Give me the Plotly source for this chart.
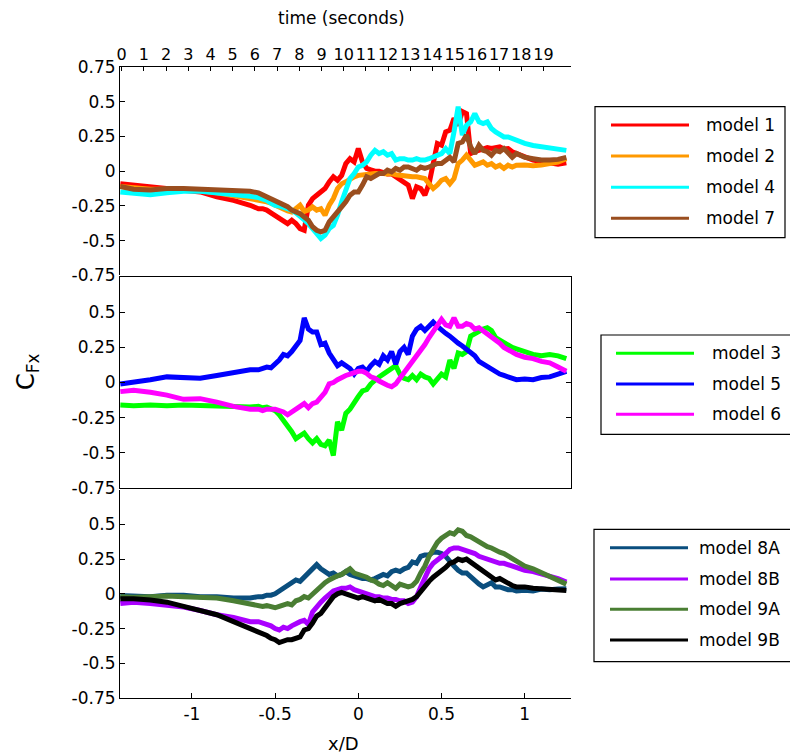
import plotly.graph_objects as go

W, H = 790, 756

# x/D stations shared by every series (coarse on the quiet left part,
# finer through the passage, coarse again at the right end)
x_d = [-1.43, -1.35, -1.25, -1.15, -1.05, -0.95, -0.85, -0.75, -0.65,
       -0.6, -0.575, -0.55, -0.525, -0.5, -0.475, -0.45, -0.425, -0.4, -0.375,
       -0.35, -0.325, -0.3, -0.275, -0.25, -0.225, -0.2, -0.175, -0.15, -0.125,
       -0.1, -0.075, -0.05, -0.025, 0.0, 0.025, 0.05, 0.075, 0.1, 0.125,
       0.15, 0.175, 0.2, 0.225, 0.25, 0.275, 0.3, 0.325, 0.35, 0.375,
       0.4, 0.425, 0.45, 0.475, 0.5, 0.525, 0.55, 0.575, 0.6, 0.625,
       0.65, 0.675, 0.7, 0.725, 0.75, 0.775, 0.8, 0.825, 0.85, 0.875,
       0.9, 0.925, 0.95,
       1.0, 1.05, 1.1, 1.15, 1.2, 1.25]

# ---- top panel ----
model_1 = [-0.09, -0.10, -0.113, -0.125, -0.137, -0.149, -0.185, -0.21, -0.245,
           -0.27, -0.27, -0.28, -0.30, -0.317, -0.34, -0.353, -0.377, -0.353, -0.377,
           -0.413, -0.425, -0.245, -0.197, -0.173, -0.15, -0.125, -0.077, -0.04, -0.065,
           -0.03, 0.055, 0.09, 0.067, 0.163, 0.067, 0.02, 0.01, 0.0, 0.0,
           -0.01, -0.02, -0.02, -0.04, -0.065, -0.09, -0.10, -0.197, -0.113, -0.125,
           -0.173, -0.09, 0.067, 0.20, 0.187, 0.283, 0.295, 0.38, 0.33, 0.43,
           0.415, 0.127, 0.14, 0.15, 0.163, 0.17, 0.163, 0.17, 0.175, 0.16,
           0.163, 0.14, 0.127,
           0.10, 0.08, 0.07, 0.06, 0.05, 0.06]
model_2 = [-0.11, -0.12, -0.13, -0.13, -0.135, -0.14, -0.155, -0.175, -0.20,
           -0.21, -0.215, -0.22, -0.23, -0.245, -0.26, -0.28, -0.285, -0.293, -0.27,
           -0.245, -0.29, -0.28, -0.257, -0.28, -0.27, -0.317, -0.245, -0.197, -0.125,
           -0.09, -0.077, -0.053, -0.04, -0.03, -0.025, -0.017, -0.02, -0.017, -0.015,
           -0.017, -0.02, -0.017, -0.025, -0.03, -0.035, -0.04, -0.04, -0.04, -0.045,
           -0.053, -0.09, -0.125, -0.10, -0.065, -0.053, -0.09, -0.053, 0.055, 0.08,
           0.115, 0.08, 0.043, 0.055, 0.067, 0.043, 0.055, 0.03, 0.043, 0.02,
           0.043, 0.03, 0.043,
           0.045, 0.04, 0.045, 0.055, 0.065, 0.09]
model_4 = [-0.15, -0.16, -0.17, -0.155, -0.145, -0.145, -0.155, -0.165, -0.18,
           -0.19, -0.20, -0.21, -0.23, -0.245, -0.25, -0.257, -0.265, -0.28, -0.30,
           -0.33, -0.35, -0.377, -0.41, -0.45, -0.485, -0.46, -0.413, -0.39, -0.317,
           -0.22, -0.125, -0.053, -0.017, 0.03, 0.043, 0.067, 0.115, 0.15, 0.127,
           0.14, 0.115, 0.127, 0.08, 0.09, 0.09, 0.08, 0.08, 0.09, 0.08,
           0.08, 0.09, 0.103, 0.115, 0.127, 0.163, 0.127, 0.283, 0.464, 0.26,
           0.33, 0.355, 0.415, 0.355, 0.343, 0.355, 0.307, 0.283, 0.26, 0.247,
           0.247, 0.235, 0.223,
           0.20, 0.185, 0.175, 0.165, 0.16, 0.15]
model_7 = [-0.11, -0.13, -0.135, -0.125, -0.125, -0.13, -0.135, -0.135, -0.145,
           -0.156, -0.17, -0.185, -0.195, -0.21, -0.22, -0.233, -0.255, -0.28, -0.29,
           -0.305, -0.33, -0.353, -0.40, -0.425, -0.437, -0.425, -0.365, -0.33, -0.305,
           -0.257, -0.22, -0.173, -0.15, -0.15, -0.10, -0.04, -0.053, -0.03, -0.017,
           -0.017, 0.007, -0.005, 0.02, 0.007, 0.03, 0.03, 0.02, 0.007, 0.03,
           0.02, 0.03, 0.043, 0.055, 0.055, 0.08, 0.10, 0.067, 0.20, 0.21,
           0.26, 0.175, 0.127, 0.187, 0.15, 0.14, 0.115, 0.15, 0.14, 0.163,
           0.127, 0.10, 0.127,
           0.10, 0.09, 0.08, 0.08, 0.085, 0.10]

# ---- middle panel ----
model_3 = [-0.16, -0.165, -0.16, -0.165, -0.16, -0.165, -0.17, -0.175, -0.175,
           -0.17, -0.18, -0.175, -0.19, -0.20, -0.23, -0.27, -0.30, -0.35, -0.40,
           -0.38, -0.36, -0.40, -0.43, -0.40, -0.44, -0.45, -0.41, -0.52, -0.28,
           -0.34, -0.22, -0.19, -0.14, -0.10, -0.06, -0.05, -0.01, 0.02, 0.04,
           0.06, 0.08, 0.10, 0.12, 0.06, 0.03, 0.02, 0.05, 0.02, 0.06,
           0.04, 0.03, -0.01, 0.03, 0.06, 0.04, 0.16, 0.10, 0.21, 0.20,
           0.22, 0.33, 0.35, 0.36, 0.38, 0.39, 0.37, 0.32, 0.30, 0.28,
           0.27, 0.25, 0.24,
           0.22, 0.20, 0.19, 0.20, 0.19, 0.17]
model_5 = [-0.01, 0.0, 0.02, 0.04, 0.035, 0.03, 0.05, 0.07, 0.09,
           0.09, 0.10, 0.11, 0.105, 0.13, 0.16, 0.20, 0.19, 0.22, 0.26,
           0.30, 0.46, 0.38, 0.36, 0.36, 0.27, 0.28, 0.21, 0.17, 0.12,
           0.14, 0.12, 0.10, 0.06, 0.10, 0.11, 0.08, 0.12, 0.15, 0.13,
           0.19, 0.16, 0.22, 0.13, 0.22, 0.25, 0.20, 0.33, 0.38, 0.40,
           0.37, 0.40, 0.43, 0.40, 0.37, 0.35, 0.33, 0.30, 0.28, 0.26,
           0.24, 0.21, 0.19, 0.15, 0.13, 0.11, 0.09, 0.07, 0.06, 0.05,
           0.04, 0.03, 0.02,
           0.025, 0.02, 0.035, 0.04, 0.06, 0.08]
model_6 = [-0.065, -0.055, -0.07, -0.09, -0.12, -0.115, -0.14, -0.17, -0.19,
           -0.19, -0.20, -0.19, -0.19, -0.19, -0.20, -0.21, -0.23, -0.21, -0.20,
           -0.17, -0.15, -0.18, -0.15, -0.14, -0.10, -0.07, -0.01, 0.0, 0.02,
           0.04, 0.05, 0.06, 0.07, 0.08, 0.08, 0.065, 0.04, 0.03, 0.01,
           -0.01, -0.02, -0.03, -0.01, 0.03, 0.07, 0.10, 0.14, 0.18, 0.22,
           0.27, 0.32, 0.36, 0.40, 0.45, 0.41, 0.40, 0.46, 0.40, 0.40,
           0.42, 0.41, 0.38, 0.39, 0.37, 0.35, 0.33, 0.30, 0.28, 0.25,
           0.23, 0.22, 0.20,
           0.18, 0.17, 0.15, 0.14, 0.11, 0.08]

# ---- bottom panel ----
model_8A = [-0.012, -0.015, -0.02, -0.01, -0.01, -0.02, -0.02, -0.03, -0.03,
            -0.02, -0.02, -0.01, -0.01, 0.0, 0.02, 0.03, 0.05, 0.08, 0.10,
            0.09, 0.12, 0.14, 0.17, 0.21, 0.18, 0.16, 0.14, 0.15, 0.13,
            0.14, 0.16, 0.14, 0.13, 0.12, 0.11, 0.11, 0.10, 0.11, 0.13,
            0.14, 0.13, 0.16, 0.17, 0.16, 0.18, 0.19, 0.23, 0.22, 0.27,
            0.28, 0.28, 0.30, 0.30, 0.29, 0.27, 0.23, 0.20, 0.17, 0.15,
            0.15, 0.12, 0.10, 0.07, 0.05, 0.07, 0.08, 0.05, 0.05, 0.04,
            0.03, 0.03, 0.02,
            0.025, 0.02, 0.035, 0.03, 0.035, 0.036]
model_8B = [-0.07, -0.06, -0.07, -0.08, -0.095, -0.12, -0.15, -0.17, -0.20,
            -0.20, -0.21, -0.22, -0.23, -0.25, -0.26, -0.24, -0.25, -0.23, -0.21,
            -0.20, -0.19, -0.22, -0.13, -0.09, -0.06, -0.03, 0.0, 0.02, 0.03,
            0.04, 0.04, 0.05, 0.03, 0.02, 0.01, 0.0, -0.01, -0.02, -0.02,
            -0.03, -0.03, -0.04, -0.04, -0.05, -0.05, -0.07, -0.06, -0.02, 0.05,
            0.12, 0.18, 0.22, 0.24, 0.26, 0.29, 0.32, 0.33, 0.33, 0.32,
            0.31, 0.30, 0.29, 0.27, 0.26, 0.25, 0.24, 0.23, 0.22, 0.22,
            0.21, 0.20, 0.19,
            0.17, 0.16, 0.145, 0.13, 0.11, 0.085]
model_9A = [-0.02, -0.024, -0.02, -0.015, -0.02, -0.022, -0.03, -0.05, -0.075,
            -0.085, -0.09, -0.085, -0.09, -0.10, -0.09, -0.08, -0.07, -0.08, -0.05,
            -0.04, -0.02, -0.03, 0.0, 0.03, 0.06, 0.08, 0.10, 0.12, 0.13,
            0.14, 0.16, 0.18, 0.15, 0.14, 0.13, 0.12, 0.10, 0.09, 0.07,
            0.06, 0.08, 0.06, 0.04, 0.07, 0.06, 0.05, 0.06, 0.09, 0.15,
            0.20, 0.27, 0.33, 0.37, 0.40, 0.42, 0.44, 0.43, 0.46, 0.45,
            0.42, 0.41, 0.39, 0.37, 0.36, 0.34, 0.33, 0.31, 0.30, 0.29,
            0.27, 0.25, 0.23,
            0.20, 0.18, 0.15, 0.13, 0.10, 0.07]
model_9B = [-0.036, -0.036, -0.045, -0.06, -0.09, -0.12, -0.15, -0.20, -0.25,
            -0.27, -0.29, -0.30, -0.32, -0.33, -0.35, -0.34, -0.33, -0.33, -0.32,
            -0.31, -0.26, -0.25, -0.21, -0.16, -0.14, -0.10, -0.05, -0.02, 0.0,
            0.01, 0.0, -0.01, -0.02, -0.03, -0.02, -0.03, -0.04, -0.05, -0.04,
            -0.06, -0.07, -0.07, -0.09, -0.07, -0.06, -0.05, -0.04, -0.02, 0.02,
            0.06, 0.09, 0.12, 0.14, 0.16, 0.19, 0.22, 0.23, 0.25, 0.24,
            0.25, 0.23, 0.21, 0.18, 0.17, 0.15, 0.12, 0.10, 0.11, 0.09,
            0.07, 0.06, 0.05,
            0.05, 0.04, 0.035, 0.03, 0.025, 0.025]

panels = [
    [("model 1", model_1, "#ff0000"), ("model 2", model_2, "#ff9900"),
     ("model 4", model_4, "#00ffff"), ("model 7", model_7, "#9a4e1f")],
    [("model 3", model_3, "#00ff00"), ("model 5", model_5, "#0000ff"),
     ("model 6", model_6, "#ff00ff")],
    [("model 8A", model_8A, "#0a4e7e"), ("model 8B", model_8B, "#aa00ff"),
     ("model 9A", model_9A, "#4a7e33"), ("model 9B", model_9B, "#000000")],
]
for series in panels:
    for name, vals, _ in series:
        if len(vals) != len(x_d):
            raise ValueError(f"{name}: {len(vals)} values for {len(x_d)} stations")

time_ticks = list(range(20))
y_ticks = [-0.75, -0.5, -0.25, 0, 0.25, 0.5, 0.75]
y_text = ["-0.75", "-0.5", "-0.25", "0", "0.25", "0.5", "0.75"]
xd_ticks = [-1, -0.5, 0, 0.5, 1]
xd_text = ["-1", "-0.5", "0", "0.5", "1"]

FONT = "DejaVu Sans"


def px(x):
    return x / W


def py(y):
    return 1 - y / H


fig = go.Figure()
axis_ids = [("x", "y"), ("x2", "y2"), ("x3", "y3")]
for (xa, ya), series in zip(axis_ids, panels):
    for name, vals, col in series:
        fig.add_trace(go.Scatter(x=x_d, y=vals, mode="lines", name=name,
                                 line=dict(color=col, width=5), xaxis=xa, yaxis=ya,
                                 showlegend=False))

# empty trace that puts the time axis on the top panel
fig.add_trace(go.Scatter(x=[time_ticks[0], time_ticks[-1]], y=[None, None],
                         mode="lines", xaxis="x4", yaxis="y", showlegend=False,
                         hoverinfo="skip"))

x_dom = [px(120), px(571)]
x_rng = [-1.432, 1.278]
doms = [[py(275.4), py(67)], [py(487.8), py(277.2)], [py(698.1), py(489.6)]]

common_y = dict(range=[-0.75, 0.75], showgrid=False, zeroline=False, showline=True,
                linecolor="black", linewidth=1, ticks="inside", ticklen=5,
                tickcolor="black", automargin=False,
                tickfont=dict(family=FONT, size=17, color="black"))

fig.update_layout(
    width=W, height=H, margin=dict(l=0, r=0, t=0, b=0, autoexpand=False),
    paper_bgcolor="white", plot_bgcolor="white",
    xaxis=dict(domain=x_dom, range=x_rng, anchor="y", showgrid=False, zeroline=False,
               showline=False, ticks="", showticklabels=False, automargin=False),
    xaxis2=dict(domain=x_dom, range=x_rng, anchor="y2", showgrid=False, zeroline=False,
                showline=True, mirror=True, linecolor="black", linewidth=1,
                ticks="", showticklabels=False, automargin=False),
    xaxis3=dict(domain=x_dom, range=x_rng, anchor="y3", showgrid=False, zeroline=False,
                showline=True, linecolor="black", linewidth=1, ticks="inside", ticklen=5,
                tickcolor="black", tickvals=xd_ticks, ticktext=xd_text, automargin=False,
                tickfont=dict(family=FONT, size=17, color="black")),
    xaxis4=dict(overlaying="x", side="top", anchor="y", range=[-0.077, 20.24],
                domain=x_dom, automargin=False, tickangle=0,
                showgrid=False, zeroline=False, showline=True, linecolor="black",
                linewidth=1, ticks="inside", ticklen=4, tickcolor="black",
                tickvals=time_ticks, ticktext=[str(t) for t in time_ticks],
                tickfont=dict(family=FONT, size=16, color="black")),
    yaxis=dict(domain=doms[0], anchor="x", tickvals=y_ticks, ticktext=y_text, **common_y),
    yaxis2=dict(domain=doms[1], anchor="x2", tickvals=y_ticks[:-1], ticktext=y_text[:-1],
                mirror="ticks", **common_y),
    yaxis3=dict(domain=doms[2], anchor="x3", tickvals=y_ticks[:-1], ticktext=y_text[:-1],
                **common_y),
)

# axis titles
fig.add_annotation(x=px(341), y=py(18), xref="paper", yref="paper", showarrow=False,
                   xanchor="center", yanchor="middle",
                   text="time (seconds)", font=dict(family=FONT, size=17, color="black"))
fig.add_annotation(x=px(343), y=py(743), xref="paper", yref="paper", showarrow=False,
                   xanchor="center", yanchor="middle",
                   text="x/D", font=dict(family=FONT, size=18, color="black"))
fig.add_annotation(x=px(27), y=py(372), xref="paper", yref="paper", showarrow=False,
                   xanchor="center", yanchor="middle",
                   text="C<sub>Fx</sub>", textangle=-90,
                   font=dict(family=FONT, size=24, color="black"))

# legend boxes, one per panel
legend_boxes = [
    dict(box=(595, 785, 106.7, 237.7), line=(611, 689), text_x=704, rows=[125, 156, 187.3, 218.3]),
    dict(box=(601, 800, 335, 434.3), line=(616, 694), text_x=710, rows=[353.3, 384, 414.3]),
    dict(box=(594, 800, 529.3, 661.7), line=(610, 688), text_x=697, rows=[547.7, 579, 609.3, 640]),
]
for lg, series in zip(legend_boxes, panels):
    x0, x1, y0, y1 = lg["box"]
    fig.add_shape(type="rect", xref="paper", yref="paper", x0=px(x0), x1=px(x1),
                  y0=py(y1), y1=py(y0), line=dict(color="black", width=1.2),
                  fillcolor="white", layer="above")
    for (name, _, col), row in zip(series, lg["rows"]):
        fig.add_shape(type="line", xref="paper", yref="paper", x0=px(lg["line"][0]),
                      x1=px(lg["line"][1]), y0=py(row), y1=py(row),
                      line=dict(color=col, width=3), layer="above")
        fig.add_annotation(x=px(lg["text_x"]), y=py(row), xref="paper", yref="paper",
                           showarrow=False, xanchor="left", yanchor="middle", text=name,
                           font=dict(family=FONT, size=17, color="black"))

fig.write_html("out.html")
